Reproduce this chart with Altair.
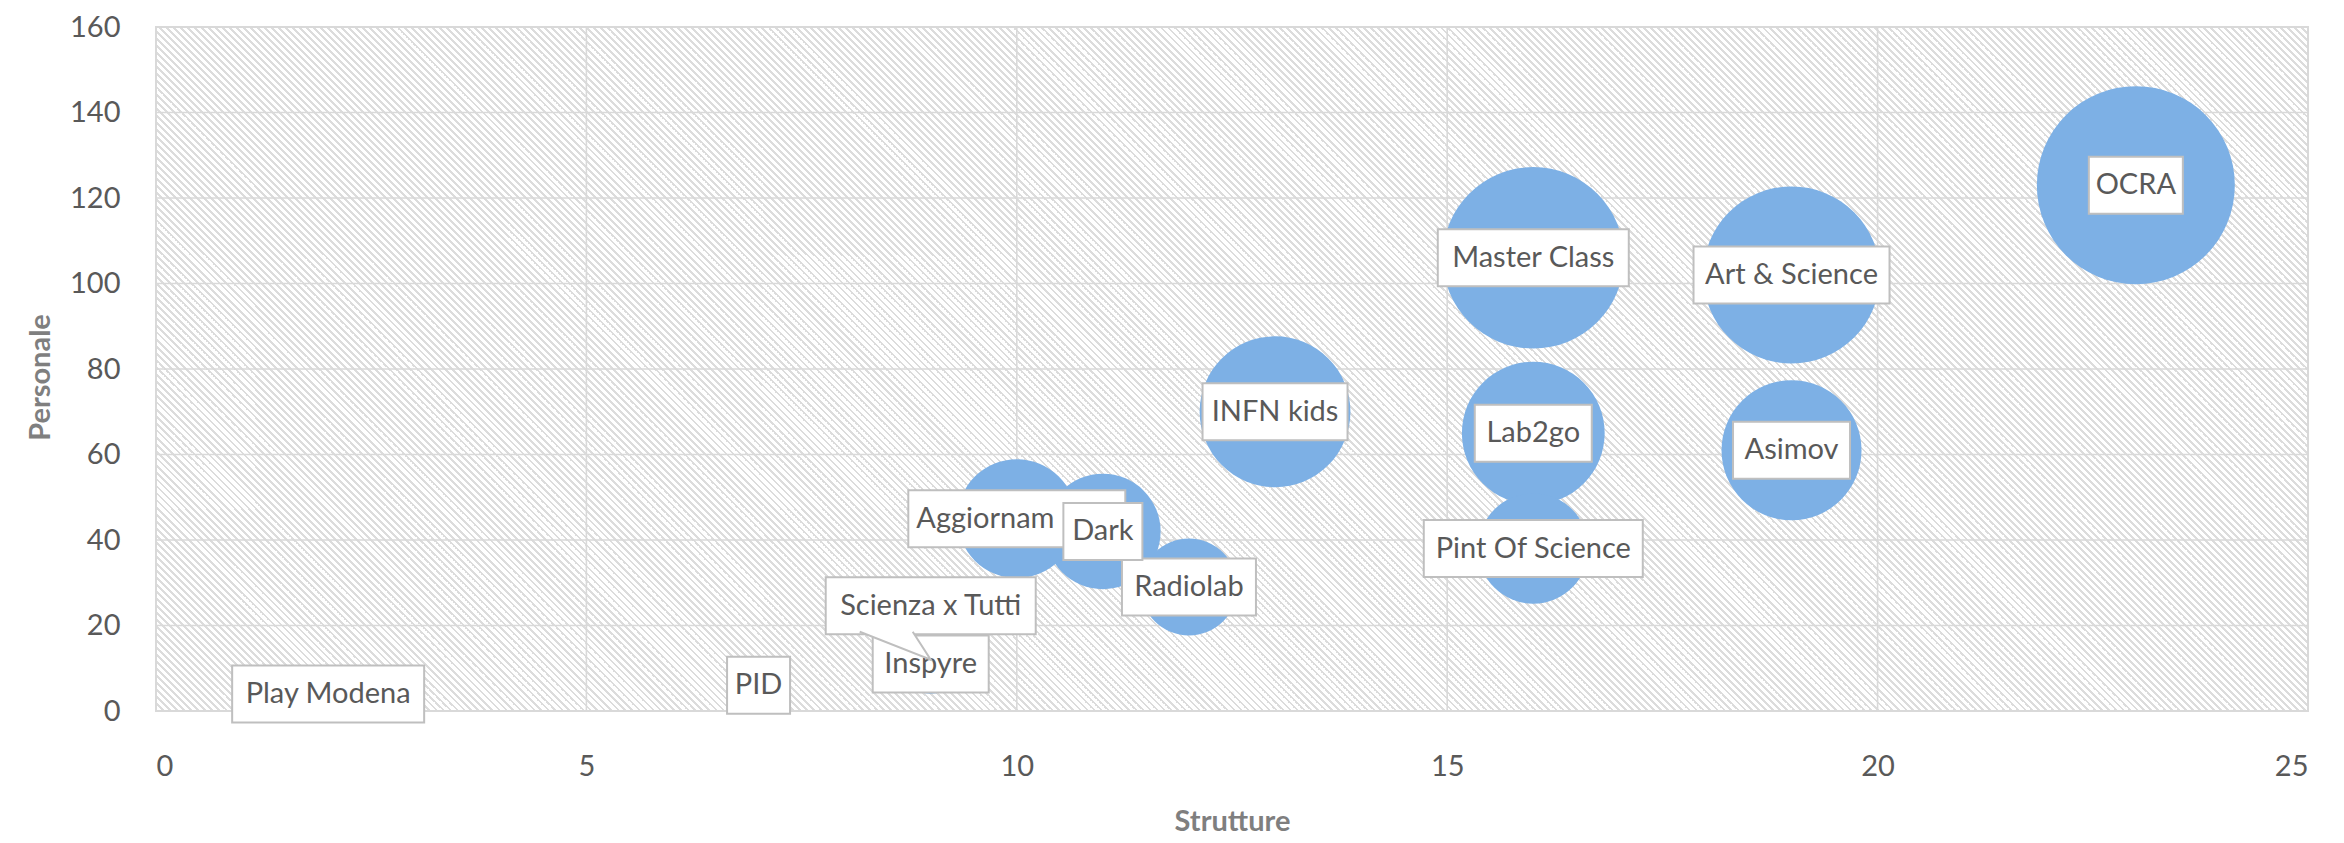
import altair as alt
import pandas as pd

# ---------------- data ----------------
progetti = ["OCRA", "Master Class", "Art & Science", "INFN kids", "Lab2go", "Asimov",
            "Aggiornam", "Dark", "Pint Of Science", "Radiolab", "Scienza x Tutti",
            "Inspyre", "PID", "Play Modena"]
strutture = [23, 16, 19, 13, 16, 19, 10, 11, 16, 12, 9, 9, 7, 2]
personale = [123, 106, 102, 70, 65, 61, 45, 42, 38, 29, 12, 11, 6, 4]
dimensione = [100, 84, 80, 58, 52, 50, 36, 34, 31, 24, 5, 9, 0, 0]

x_ticks = [0, 5, 10, 15, 20, 25]
y_ticks = [0, 20, 40, 60, 80, 100, 120, 140, 160]

# ---------------- style ----------------
W, H = 2152, 684
FONT = "Lato"
TXT = "#595959"
GRID = "#d9d9d9"
BOX = "#bfbfbf"
BUBBLE = "#7db0e5"
BOX_H = 57
box_w = {"OCRA": 94, "Master Class": 191, "Art & Science": 196, "INFN kids": 145,
         "Lab2go": 117, "Asimov": 117, "Aggiornam": 217, "Dark": 79,
         "Pint Of Science": 219, "Radiolab": 134, "Scienza x Tutti": 210,
         "Inspyre": 116, "PID": 63, "Play Modena": 192}
label_dy = {"Scienza x Tutti": -54}
left_aligned = ["Aggiornam"]
on_top = ["Dark"]

df = pd.DataFrame({"Progetto": progetti, "Strutture": strutture,
                   "Personale": personale, "Dimensione": dimensione})
df["bw"] = df["Progetto"].map(box_w)
df["dy"] = df["Progetto"].map(label_dy).fillna(0)

grid_x = pd.DataFrame({"Strutture": x_ticks[1:-1]})
grid_y = pd.DataFrame({"Personale": y_ticks[1:-1]})

# hatch background: striped linear gradient with 45-degree lines, 7 px period
r = H / W
s = (1 + r) / (1 + r * r)
span = W + H
period, dark = 7.0, 2.2
HATCH = "#dcdcdc"
stops = []
d = 0.0
while d < span:
    a = d / span
    b = min((d + dark) / span, 1.0)
    c = min((d + period) / span, 1.0)
    stops += [alt.GradientStop(offset=a, color=HATCH),
              alt.GradientStop(offset=b, color=HATCH)]
    if b < 1.0:
        stops += [alt.GradientStop(offset=b, color="#ffffff"),
                  alt.GradientStop(offset=c, color="#ffffff")]
    d += period
hatch = alt.LinearGradient(gradient="linear", stops=stops,
                           x1=0, y1=1, x2=s, y2=1 - s * r)

x_scale = alt.Scale(domain=[0, 25], nice=False, zero=True)
y_scale = alt.Scale(domain=[0, 160], nice=False)

xs = alt.X("Strutture:Q", scale=x_scale,
           axis=alt.Axis(title="Strutture", values=x_ticks, format="d", grid=False,
                         domain=False, ticks=False, labelPadding=41,
                         titleY=110, titleBaseline="middle"))
ys = alt.Y("Personale:Q", scale=y_scale,
           axis=alt.Axis(title="Personale", values=y_ticks, format="d", grid=False,
                         domain=False, ticks=False, labelPadding=36,
                         titleX=-116, titleY=350, titleAngle=-90,
                         titleBaseline="middle", titleAlign="center"))

background = alt.Chart(df).mark_rect(fill=hatch, stroke=GRID, strokeWidth=2).encode(
    x=alt.X(datum=0, scale=x_scale), x2=alt.datum(25),
    y=alt.Y(datum=0, scale=y_scale), y2=alt.datum(160),
)

vlines = alt.Chart(grid_x).mark_rule(color=GRID, strokeWidth=1.6).encode(x="Strutture:Q")
hlines = alt.Chart(grid_y).mark_rule(color=GRID, strokeWidth=1.6).encode(y="Personale:Q")

base = alt.Chart(df)

bubbles = base.mark_circle(color=BUBBLE, opacity=1).encode(
    x=xs, y=ys,
    size=alt.Size("Dimensione:Q", scale=alt.Scale(domain=[0, 100], range=[0, 198 * 198]),
                  legend=None),
)


def boxes(chart):
    return chart.mark_rect(fill="white", stroke=BOX, strokeWidth=2,
                           xOffset=alt.expr("-datum.bw/2"), x2Offset=alt.expr("datum.bw/2"),
                           yOffset=alt.expr(f"datum.dy - {BOX_H/2}"),
                           y2Offset=alt.expr(f"datum.dy + {BOX_H/2}")).encode(
        x="Strutture:Q", x2="Strutture:Q", y="Personale:Q", y2="Personale:Q")


def texts(chart, left=False):
    if left:
        return chart.mark_text(font=FONT, fontSize=29, color=TXT, baseline="middle",
                               align="left", dx=alt.expr("-datum.bw/2 + 8"),
                               dy=alt.expr("datum.dy")).encode(
            x="Strutture:Q", y="Personale:Q", text="Progetto:N")
    return chart.mark_text(font=FONT, fontSize=29, color=TXT, baseline="middle",
                           align="center", dy=alt.expr("datum.dy")).encode(
        x="Strutture:Q", y="Personale:Q", text="Progetto:N")


low_names = [p for p in progetti if p not in on_top]
low = base.transform_filter(alt.FieldOneOfPredicate(field="Progetto", oneOf=low_names))
low_c = base.transform_filter(alt.FieldOneOfPredicate(
    field="Progetto", oneOf=[p for p in low_names if p not in left_aligned]))
low_l = base.transform_filter(alt.FieldOneOfPredicate(field="Progetto", oneOf=left_aligned))
top = base.transform_filter(alt.FieldOneOfPredicate(field="Progetto", oneOf=on_top))

wedge = base.transform_filter(alt.datum.Progetto == "Scienza x Tutti").mark_point(
    shape="M-1.42,-0.56L0,0L-0.36,-0.56", size=10000, filled=True, fill="white",
    stroke=BOX, strokeWidth=2, opacity=1).encode(x="Strutture:Q", y="Personale:Q")

chart = alt.layer(
    background, vlines, hlines, bubbles,
    boxes(low), texts(low_c), texts(low_l, left=True),
    boxes(top), texts(top), wedge
).properties(
    width=W, height=H,
    autosize=alt.AutoSizeParams(type="none"),
    padding={"left": 148, "top": 19, "right": 28, "bottom": 124},
).configure_view(
    stroke=None
).configure_axis(
    labelFont=FONT, labelFontSize=29, labelColor=TXT,
    titleFont=FONT, titleFontSize=29, titleColor="#7f7f7f", titleFontWeight="bold",
)

chart.save("out.html", embed_options={"renderer": "svg", "actions": False})
